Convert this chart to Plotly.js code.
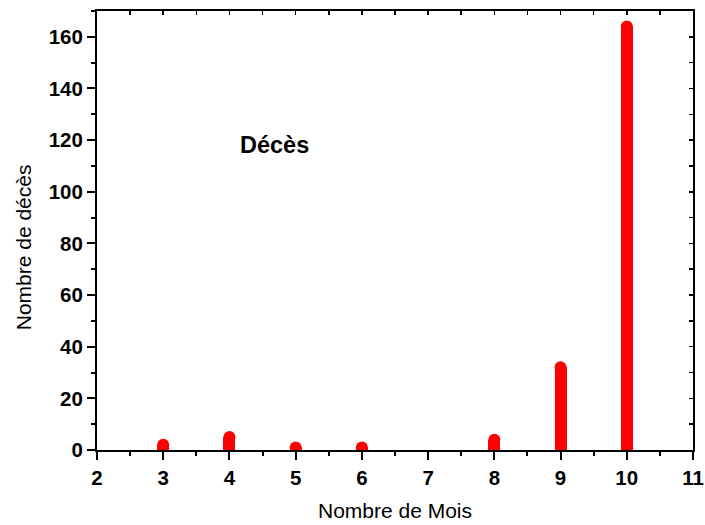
<!DOCTYPE html>
<html>
<head>
<meta charset="utf-8">
<script src="https://cdn.plot.ly/plotly-3.0.1.min.js"></script>
<style>html,body{margin:0;padding:0;background:#fff;}#chart{width:705px;height:525px;}</style>
</head>
<body>
<div id="chart"></div>
<script>
const months = [3, 4, 5, 6, 8, 9, 10];
const deaths = [2, 5, 1, 1, 4, 32, 164];
const xTickVals = [2, 3, 4, 5, 6, 7, 8, 9, 10, 11];
const yTickVals = [0, 20, 40, 60, 80, 100, 120, 140, 160];
const xTitle = 'Nombre de Mois';
const yTitle = 'Nombre de décès';
const label = 'Décès';

const red = '#ff0000';
const FONT = 'Arial, "Liberation Sans", sans-serif';

const traces = [
  {type: 'bar', x: months, y: deaths, width: 0.18, marker: {color: red, line: {width: 0}}, hoverinfo: 'none'},
  {type: 'scatter', mode: 'markers', x: months, y: deaths, marker: {color: red, size: 12, line: {width: 0}}, cliponaxis: true, hoverinfo: 'none'},
  {type: 'scatter', mode: 'markers', x: [2], y: [0], xaxis: 'x2', yaxis: 'y2', marker: {opacity: 0}, hoverinfo: 'none'}
];

const axBase = {
  showgrid: false, zeroline: false, showline: true, linecolor: '#000', linewidth: 2,
  ticks: 'outside', tickcolor: '#000', tickwidth: 2, ticklen: 8,
  tickfont: {family: FONT, size: 20.5, color: '#000', weight: 'bold'}
};

const layout = {
  width: 705, height: 525,
  margin: {l: 97, r: 12, t: 11, b: 75},
  paper_bgcolor: '#fff', plot_bgcolor: '#fff',
  showlegend: false,
  bargap: 0,
  xaxis: Object.assign({}, axBase, {
    range: [2, 11], tickmode: 'array', tickvals: xTickVals,
    minor: {dtick: 0.5, tick0: 2, ticklen: 4, tickwidth: 2, tickcolor: '#000', ticks: 'outside'},
    title: {text: xTitle, font: {family: FONT, size: 21, color: '#000'}, standoff: 16}
  }),
  yaxis: Object.assign({}, axBase, {
    range: [0, 170], tickmode: 'array', tickvals: yTickVals,
    minor: {dtick: 10, tick0: 0, ticklen: 4, tickwidth: 2, tickcolor: '#000', ticks: 'outside'}
  }),
  xaxis2: {
    overlaying: 'x', side: 'top', anchor: 'y2', range: [2, 11], showgrid: false, zeroline: false,
    showline: true, linecolor: '#000', linewidth: 2, ticks: 'inside', ticklen: 4, tickwidth: 1.5, tickcolor: '#000',
    dtick: 0.5, tick0: 2, showticklabels: false
  },
  yaxis2: {
    overlaying: 'y', side: 'right', anchor: 'x2', range: [0, 170], showgrid: false, zeroline: false,
    showline: true, linecolor: '#000', linewidth: 2, ticks: 'inside', ticklen: 4, tickwidth: 1.5, tickcolor: '#000',
    dtick: 10, tick0: 0, showticklabels: false
  },
  annotations: [
    {
      x: 4.68, y: 118, xref: 'x', yref: 'y', text: label, showarrow: false,
      font: {family: FONT, size: 23.5, color: '#000', weight: 'bold'}
    },
    {
      x: -0.124, y: 0.462, xref: 'paper', yref: 'paper', text: yTitle, showarrow: false,
      textangle: -90, xanchor: 'center', yanchor: 'middle',
      font: {family: FONT, size: 21, color: '#000'}
    }
  ]
};

Plotly.newPlot('chart', traces, layout, {staticPlot: true, displayModeBar: false});
</script>
</body>
</html>
